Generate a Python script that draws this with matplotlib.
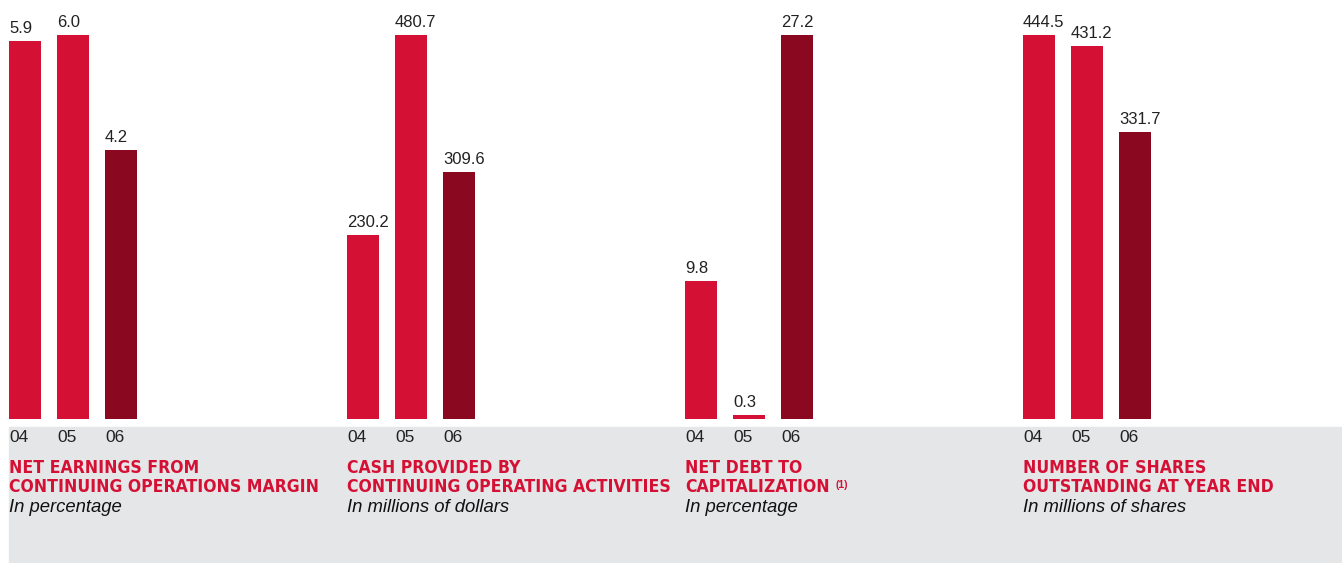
import matplotlib
matplotlib.use('Agg')
import matplotlib.pyplot as plt
from matplotlib.patches import Rectangle

# 数据
years = ['04', '05', '06']
earnings_margin = [5.9, 6.0, 4.2]
cash_from_ops = [230.2, 480.7, 309.6]
net_debt_cap = [9.8, 0.3, 27.2]
shares_out = [444.5, 431.2, 331.7]

panel_values = [earnings_margin, cash_from_ops, net_debt_cap, shares_out]
panel_titles = [
    ['NET EARNINGS FROM', 'CONTINUING OPERATIONS MARGIN'],
    ['CASH PROVIDED BY', 'CONTINUING OPERATING ACTIVITIES'],
    ['NET DEBT TO', 'CAPITALIZATION'],
    ['NUMBER OF SHARES', 'OUTSTANDING AT YEAR END'],
]
panel_notes = ['', '', '(1)', '']
panel_units = ['In percentage', 'In millions of dollars', 'In percentage', 'In millions of shares']

RED = '#D41134'
DARK = '#8A0820'
GRAY = '#E5E6E8'
TXT = '#222222'

W, H = 1342, 563
fig = plt.figure(figsize=(W / 100, H / 100), dpi=100)
fig.patch.set_facecolor('white')

plt.rcParams['font.family'] = ['Liberation Sans', 'DejaVu Sans']

# 灰色底栏
fig.patches.append(Rectangle((9 / W, 0), 1 - 9 / W, (H - 427) / H,
                             transform=fig.transFigure, color=GRAY, zorder=-5))

title_font = dict(fontsize=12.6, fontweight='bold', color=RED,
                  family='DejaVu Sans', fontstretch='condensed')

step = 338
bar_bottom = 419
bar_top = 35
for p, vals in enumerate(panel_values):
    x0 = p * step + 9
    ax = fig.add_axes([(x0 + 16 - 24) / W, (H - bar_bottom) / H, 144 / W, (bar_bottom - bar_top) / H])
    ax.set_xlim(-0.5, 2.5)
    ax.set_ylim(0, max(vals))
    ax.axis('off')
    ax.set_zorder(2)
    colors = [RED, RED, DARK]
    bw = 32 / 48
    ax.bar(range(3), vals, width=bw, color=colors, zorder=2)
    for i, v in enumerate(vals):
        ax.annotate(f'{v:.1f}', xy=(i - bw / 2, v), xytext=(0, 5), textcoords='offset pixels',
                    ha='left', va='bottom', fontsize=12, color=TXT, annotation_clip=False)
        ax.annotate(years[i], xy=(i - bw / 2, 0), xytext=(0, -18), textcoords='offset pixels',
                    ha='left', va='center', fontsize=12.5, color=TXT, annotation_clip=False)

    # 标题
    l1, l2 = panel_titles[p]
    fig.text(x0 / W, 1 - 468 / H, l1, ha='left', va='center', **title_font)
    t2 = fig.text(x0 / W, 1 - 487 / H, l2, ha='left', va='center', **title_font)
    if panel_notes[p]:
        plt.annotate(panel_notes[p], xy=(1, 1), xycoords=t2, xytext=(6, -2),
                     textcoords='offset pixels', ha='left', va='top', fontsize=7.5,
                     fontweight='bold', color=RED)
    fig.text(x0 / W, 1 - 507 / H, panel_units[p], ha='left', va='center', fontsize=13.3,
             fontstyle='italic', color='#111111')

fig.savefig('out.png', dpi=100)
